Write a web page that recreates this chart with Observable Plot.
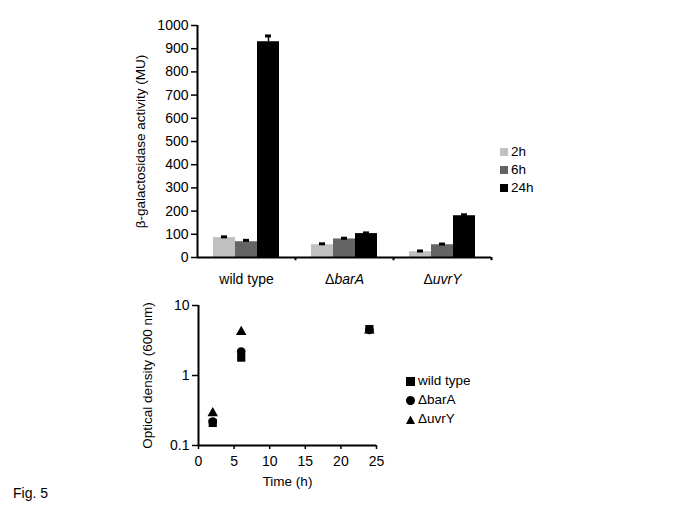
<!DOCTYPE html>
<html><head><meta charset="utf-8">
<script src="https://cdn.jsdelivr.net/npm/d3@7"></script>
<script src="https://cdn.jsdelivr.net/npm/@observablehq/plot@0.6"></script>
<style>
body{margin:0;background:#fff;font-family:"Liberation Sans",Arial,sans-serif;}
#wrap{position:relative;width:685px;height:513px;overflow:hidden;background:#fff}
.abs{position:absolute;left:0}
.leg{position:absolute;font-size:13.5px;color:#000}
.row{position:absolute;left:0;white-space:nowrap;height:18px;line-height:18px}
.row svg{vertical-align:middle;margin-right:3px}
#fig{position:absolute;left:13px;top:485px;font-size:14px}
</style></head><body>
<div id="wrap">
  <div id="topPanel" class="abs" style="top:0"></div>
  <div id="botPanel" class="abs" style="top:280px"></div>
  <div id="leg1" class="leg" style="left:500px;top:143px"></div>
  <div id="leg2" class="leg" style="left:406px;top:372px"></div>
  <div id="fig">Fig. 5</div>
</div>
<script>
// ---- Data: top panel (β-galactosidase activity, MU)
const strains = ["wild type", "ΔbarA", "ΔuvrY"];
const times = ["2h", "6h", "24h"];
const activity2h = [86, 55, 25];
const activity6h = [68, 80, 55];
const activity24h = [930, 103, 180];
const err2h = [3, 4, 3];
const err6h = [6, 3, 3];
const err24h = [25, 3, 4];
const timeColors = ["#c0c0c0", "#646464", "#000000"];

// ---- Data: bottom panel (optical density, 600 nm)
const hours = [2, 6, 24];
const odStrains = ["wild type", "ΔbarA", "ΔuvrY"];
const odWildType = [0.21, 1.8, 4.6];
const odBarA = [0.22, 2.2, 4.5];
const odUvrY = [0.29, 4.2, 4.4];
const odSymbols = ["square", "circle", "triangle"];

// ---- Build tables
const actVals = [activity2h, activity6h, activity24h];
const actErrs = [err2h, err6h, err24h];
const bars = [];
times.forEach((t, k) => strains.forEach((s, i) =>
  bars.push({strain: s, time: t, k, value: actVals[k][i], err: actErrs[k][i]})));

const odVals = [odWildType, odBarA, odUvrY];
const pts = [];
odStrains.forEach((s, j) => hours.forEach((h, i) => pts.push({strain: s, j, hour: h, od: odVals[j][i]})));

const band = 98, bw = 22, pad = 16;
const barMarks = [];
times.forEach((t, k) => {
  const rows = bars.filter(d => d.k === k);
  const off = pad + bw * k;
  const dx = off + bw / 2 - band / 2;
  barMarks.push(Plot.barY(rows, {x: "strain", y: "value", fill: timeColors[k],
    insetLeft: off, insetRight: band - off - bw}));
  barMarks.push(Plot.ruleX(rows, {x: "strain", y1: "value", y2: d => d.value + d.err, dx, strokeWidth: 1.5}));
  barMarks.push(Plot.tickY(rows, {x: "strain", y: d => d.value + d.err, dx,
    insetLeft: band / 2 - 3, insetRight: band / 2 - 3, strokeWidth: 3}));
});

const topChart = Plot.plot({
  width: 560, height: 300,
  marginLeft: 197, marginRight: 69, marginTop: 25, marginBottom: 43,
  style: {fontFamily: "Liberation Sans, Arial, sans-serif", fontSize: "14px", color: "#000", background: "transparent"},
  x: {type: "band", domain: strains, padding: 0},
  y: {domain: [0, 1000]},
  marks: [
    ...barMarks,
    Plot.ruleY([0], {strokeWidth: 2}),
    Plot.ruleX([strains[0]], {x: d => d, dx: -band / 2, y1: 0, y2: 1000, strokeWidth: 2}),
    Plot.ruleX(strains, {x: d => d, dx: band / 2, y1: 0, y2: -14, strokeWidth: 2}),
    Plot.axisY({ticks: d3.range(0, 1001, 100), tickFormat: d => String(d), tickSize: 6, tickPadding: 3, strokeWidth: 1.5,
      label: "β-galactosidase activity (MU)", labelAnchor: "center", labelOffset: 62, labelArrow: "none"}),
    Plot.axisX({tickSize: 0, tickPadding: 17, label: null})
  ]
});
document.getElementById("topPanel").appendChild(topChart);

// italicize gene names in x tick labels
d3.select(topChart).selectAll("[aria-label='x-axis tick label'] text").each(function() {
  const t = this.textContent;
  if (t.startsWith("Δ")) {
    const el = d3.select(this);
    el.text("");
    el.append("tspan").text("Δ");
    el.append("tspan").attr("font-style", "italic").text(t.slice(1));
  }
});

const symR = [4.6, 4.4, 3.9];
const dotMarks = [2, 1, 0].map(j => Plot.dot(pts.filter(d => d.j === j),
  {x: "hour", y: "od", symbol: "strain", fill: "black", stroke: "none", r: symR[j]}));

const botChart = Plot.plot({
  width: 560, height: 230,
  marginLeft: 198, marginRight: 184, marginTop: 25, marginBottom: 65,
  style: {fontFamily: "Liberation Sans, Arial, sans-serif", fontSize: "14px", color: "#000", background: "transparent"},
  x: {domain: [0, 25]},
  y: {type: "log", domain: [0.1, 10]},
  symbol: {domain: odStrains, range: odSymbols},
  marks: [
    Plot.ruleY([0.1], {strokeWidth: 2}),
    Plot.ruleX([0], {y1: 0.1, y2: 10, strokeWidth: 2}),
    Plot.axisY({ticks: [0.1, 1, 10], tickFormat: d => String(d), tickSize: 6, tickPadding: 3, strokeWidth: 1.5,
      label: "Optical density (600 nm)", labelAnchor: "center", labelOffset: 56, labelArrow: "none"}),
    Plot.axisX({ticks: d3.range(0, 26, 5), tickSize: 4, tickPadding: 7, strokeWidth: 1.5,
      label: "Time (h)", labelAnchor: "center", labelOffset: 40, labelArrow: "none"}),
    ...dotMarks
  ]
});
document.getElementById("botPanel").appendChild(botChart);

// axis titles slightly smaller than tick labels
d3.selectAll("[aria-label$='axis label']").attr("font-size", 13.5);

// ---- Legends
const leg1 = d3.select("#leg1");
times.forEach((t, k) => {
  const r = leg1.append("div").attr("class", "row").style("top", (k * 18) + "px");
  r.append("svg").attr("width", 8).attr("height", 8)
    .append("rect").attr("width", 8).attr("height", 8).attr("fill", timeColors[k]);
  r.append("span").text(t);
});
const leg2 = d3.select("#leg2");
const symPaths = {
  square: "M0,0h9v9h-9z",
  circle: "M4.5,0a4.5,4.5 0 1,0 0.001,0z",
  triangle: "M4.5,0.5L9,9L0,9z"
};
odStrains.forEach((s, j) => {
  const r = leg2.append("div").attr("class", "row").style("top", (j * 19) + "px");
  r.append("svg").attr("width", 9).attr("height", 9)
    .append("path").attr("d", symPaths[odSymbols[j]]).attr("fill", "black");
  r.append("span").text(s);
});
</script>
</body></html>
